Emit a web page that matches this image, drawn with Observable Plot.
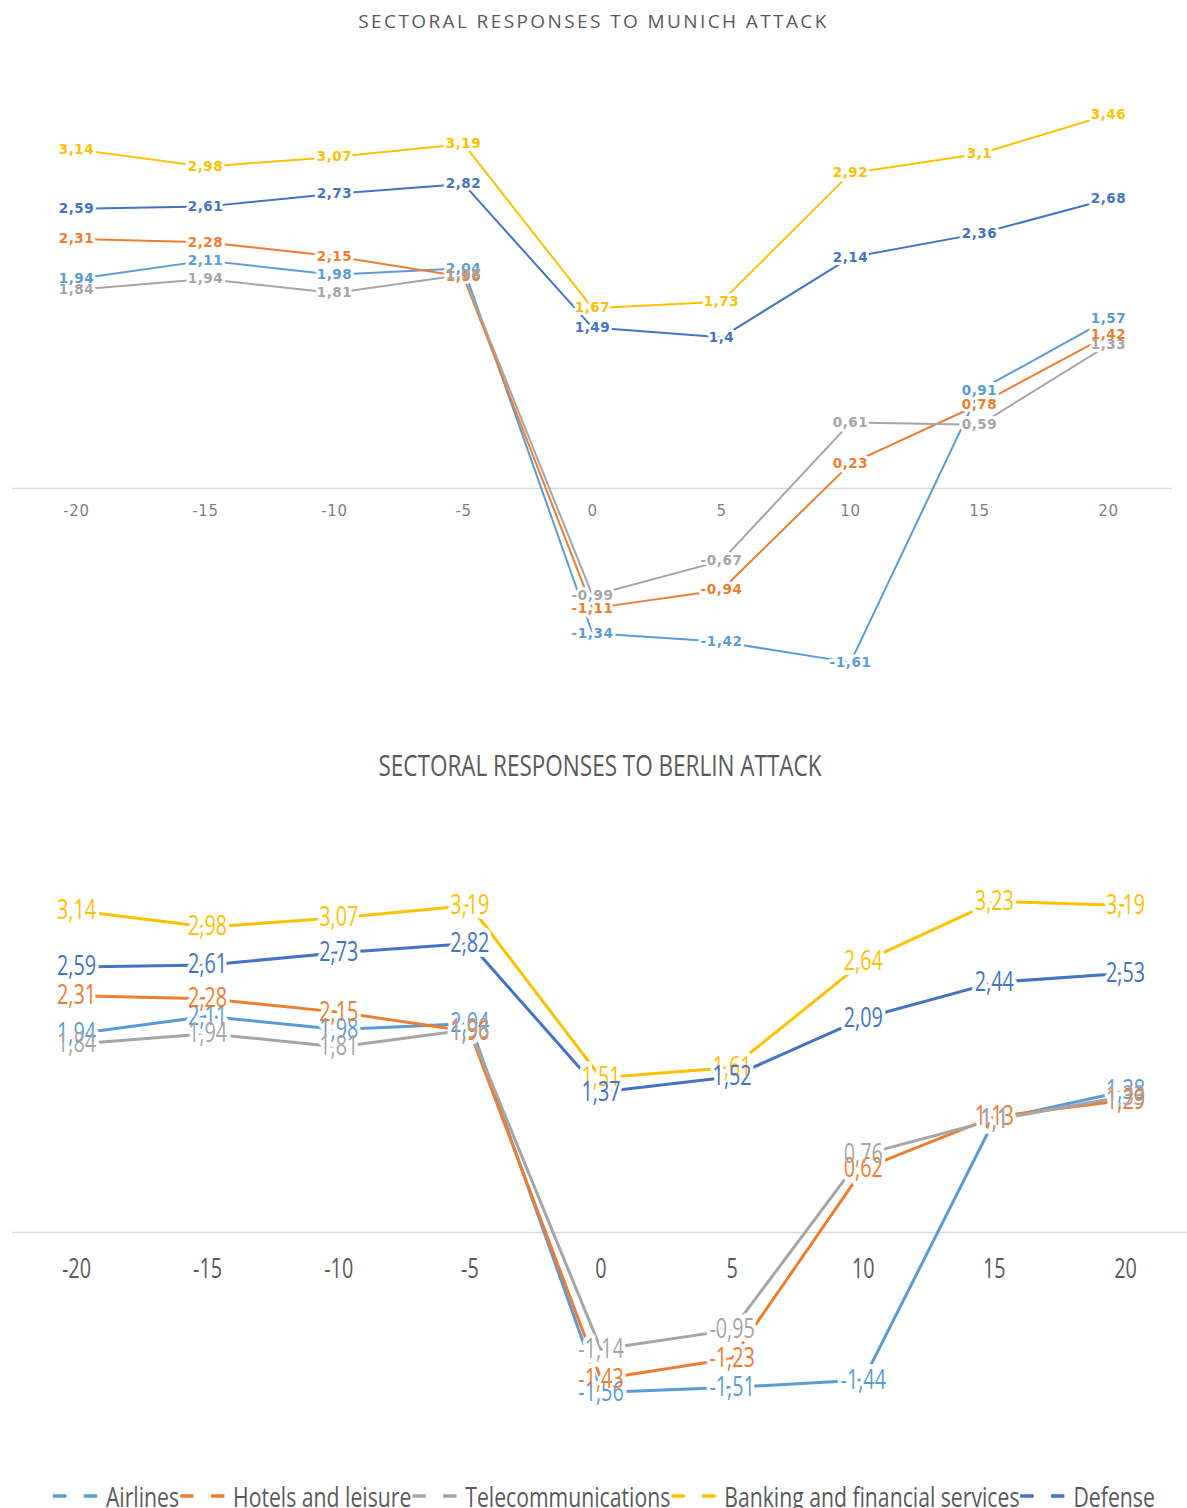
<!DOCTYPE html>
<html>
<head>
<meta charset="utf-8">
<script src="https://cdn.jsdelivr.net/npm/d3@7"></script>
<script src="https://cdn.jsdelivr.net/npm/@observablehq/plot@0.6"></script>
<style>
  html, body { margin: 0; padding: 0; background: #fff; }
  #wrap { position: relative; width: 1187px; height: 1508px; overflow: hidden; }
  .title1 { position: absolute; left: 0; width: 1187px; top: 8px; text-align: center;
    font-family: "Open Sans", sans-serif; font-size: 19px; color: #595959; letter-spacing: 2.4px; }
  .title2 { position: absolute; left: 0; width: 1200px; top: 751px; text-align: center;
    font-family: "Open Sans", sans-serif; font-size: 22.5px; color: #595959; line-height: 1;
    transform: scale(1.0, 1.32); transform-origin: center top; }
  #top { position: absolute; left: 0; top: 40px; }
  #bot { position: absolute; left: 0; top: 800px; }
  #legend { position: absolute; left: 52px; top: 1481px; display: flex; align-items: center;
    font-family: "Open Sans", sans-serif; font-size: 22px; color: #595959; white-space: nowrap;
    transform-origin: left center; }
  #legend .it { display: flex; align-items: center; }
  #legend svg { margin-right: 6px; }
</style>
</head>
<body>
<div id="wrap">
  <div class="title1">SECTORAL RESPONSES TO MUNICH ATTACK</div>
  <div id="top"></div>
  <div class="title2">SECTORAL RESPONSES TO BERLIN ATTACK</div>
  <div id="bot"></div>
  <div id="legend"></div>
</div>
<script>
const days = [-20, -15, -10, -5, 0, 5, 10, 15, 20];
const series = ["Airlines", "Hotels and leisure", "Telecommunications", "Banking and financial services", "Defense"];
const colors = ["#5B9BD5", "#ED7D31", "#A5A5A5", "#FFC000", "#4472C4"];

// Munich attack
const munichAirlines = [1.94, 2.11, 1.98, 2.04, -1.34, -1.42, -1.61, 0.91, 1.57];
const munichHotels   = [2.31, 2.28, 2.15, 1.96, -1.11, -0.94, 0.23, 0.78, 1.42];
const munichTelecom  = [1.84, 1.94, 1.81, 1.98, -0.99, -0.67, 0.61, 0.59, 1.33];
const munichBanking  = [3.14, 2.98, 3.07, 3.19, 1.67, 1.73, 2.92, 3.1, 3.46];
const munichDefense  = [2.59, 2.61, 2.73, 2.82, 1.49, 1.4, 2.14, 2.36, 2.68];

// Berlin attack
const berlinAirlines = [1.94, 2.11, 1.98, 2.04, -1.56, -1.51, -1.44, 1.1, 1.38];
const berlinHotels   = [2.31, 2.28, 2.15, 1.96, -1.43, -1.23, 0.62, 1.13, 1.29];
const berlinTelecom  = [1.84, 1.94, 1.81, 1.98, -1.14, -0.95, 0.76, 1.1, 1.33];
const berlinBanking  = [3.14, 2.98, 3.07, 3.19, 1.51, 1.61, 2.64, 3.23, 3.19];
const berlinDefense  = [2.59, 2.61, 2.73, 2.82, 1.37, 1.52, 2.09, 2.44, 2.53];

const tickLabels = ["-20", "-15", "-10", "-5", "0", "5", "10", "15", "20"];

function toRows(arrs) {
  const rows = [];
  arrs.forEach((arr, si) => arr.forEach((v, i) => rows.push({series: series[si], day: days[i], value: v})));
  return rows;
}
const fmt = v => String(v).replace(".", ",");

function makeChart(arrs, opt) {
  const rows = toRows(arrs);
  const ticks = days.map((d, i) => ({day: d, label: tickLabels[i]}));
  const svg = Plot.plot({
    width: 1187,
    height: opt.height,
    marginLeft: 76,
    marginRight: opt.marginRight,
    marginTop: opt.marginTop,
    marginBottom: opt.marginBottom,
    x: {domain: [-20, 20], axis: null},
    y: {domain: [-2, 4], axis: null},
    color: {domain: series, range: colors},
    style: {background: "white"},
    marks: [
      Plot.ruleY([0], {stroke: "#d9d9d9", strokeWidth: 1.3, insetLeft: -64, insetRight: opt.ruleRight}),
      Plot.text(ticks, {x: "day", y: () => 0, text: "label", dy: opt.tickDy,
        fill: opt.tickColor, fontSize: opt.tickSize, fontFamily: opt.font}),
      Plot.line(rows, {x: "day", y: "value", z: "series", stroke: "series", strokeWidth: opt.lineWidth}),
      Plot.text(rows, {x: "day", y: "value", text: d => fmt(d.value), fill: "white", stroke: "white",
        strokeWidth: opt.halo, fontSize: opt.labelSize, fontFamily: opt.font, fontWeight: opt.labelWeight}),
      Plot.text(rows, {x: "day", y: "value", text: d => fmt(d.value), fill: "series",
        fontSize: opt.labelSize, fontFamily: opt.font, fontWeight: opt.labelWeight})
    ]
  });
  // apply glyph scaling / letter spacing to all texts
  d3.select(svg).selectAll("text").each(function() {
    const t = d3.select(this);
    if (opt.letterSpacing) t.style("letter-spacing", opt.letterSpacing);
    if (opt.scale) {
      let tr = t.attr("transform");
      if (tr && tr.includes("translate")) {
        t.attr("transform", tr + ` scale(${opt.scale})`);
      } else {
        const x = +t.attr("x") || 0, y = +t.attr("y") || 0;
        t.attr("x", null).attr("y", null);
        t.attr("transform", (tr ? tr + " " : "") + `translate(${x},${y}) scale(${opt.scale})`);
      }
    }
  });
  return svg;
}

document.getElementById("top").appendChild(makeChart(
  [munichAirlines, munichHotels, munichTelecom, munichBanking, munichDefense],
  {height: 680, marginTop: 16, marginBottom: 16, marginRight: 79, ruleRight: -64,
   tickDy: 23, tickSize: 15, tickColor: "#7f7f7f", font: "DejaVu Sans, sans-serif",
   lineWidth: 2, halo: 6, labelSize: 13.5, labelWeight: "bold", letterSpacing: "0.6px"}));

document.getElementById("bot").appendChild(makeChart(
  [berlinAirlines, berlinHotels, berlinTelecom, berlinBanking, berlinDefense],
  {height: 660, marginTop: 22, marginBottom: 23, marginRight: 62, ruleRight: -62,
   tickDy: 37, tickSize: 22, tickColor: "#595959", font: "Open Sans, sans-serif",
   lineWidth: 3, halo: 8, labelSize: 22, labelWeight: "normal", scale: "0.9,1.2"}));

const legend = document.getElementById("legend");
series.forEach((s, i) => {
  const it = document.createElement("div");
  it.className = "it";
  it.innerHTML = `<svg width="50" height="10"><line x1="1" y1="5" x2="48" y2="5" stroke="${colors[i]}" stroke-width="3" stroke-dasharray="14,18"/></svg><span>${s}</span>`;
  legend.appendChild(it);
});
const lw = legend.scrollWidth;
legend.style.transform = `scale(${1103 / lw}, 1.2)`;
</script>
</body>
</html>
